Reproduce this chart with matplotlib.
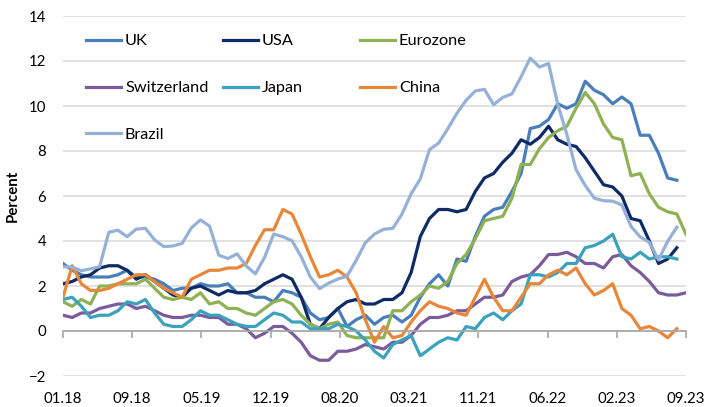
import numpy as np
import matplotlib
matplotlib.use("Agg")
import matplotlib.pyplot as plt
from matplotlib.legend import Legend
from matplotlib.transforms import blended_transform_factory

plt.rcParams['font.family'] = ['Lato', 'DejaVu Sans']

# Annual consumer price inflation, monthly from 01.18
uk = [3.0, 2.7, 2.5, 2.4, 2.4, 2.4, 2.5, 2.7, 2.4, 2.4, 2.3, 2.1,
      1.8, 1.9, 1.9, 2.1, 2.0, 2.0, 2.1, 1.7, 1.7, 1.5, 1.5, 1.3,
      1.8, 1.7, 1.5, 0.8, 0.5, 0.6, 1.0, 0.2, 0.5, 0.7, 0.3, 0.6,
      0.7, 0.4, 0.7, 1.5, 2.1, 2.5, 2.0, 3.2, 3.1, 4.2, 5.1, 5.4,
      5.5, 6.2, 7.0, 9.0, 9.1, 9.4, 10.1, 9.9, 10.1, 11.1, 10.7, 10.5,
      10.1, 10.4, 10.1, 8.7, 8.7, 7.9, 6.8, 6.7]
usa = [2.1, 2.2, 2.4, 2.5, 2.8, 2.9, 2.9, 2.7, 2.3, 2.5, 2.2, 1.9,
       1.6, 1.5, 1.9, 2.0, 1.8, 1.6, 1.8, 1.7, 1.7, 1.8, 2.1, 2.3,
       2.5, 2.3, 1.5, 0.3, 0.1, 0.6, 1.0, 1.3, 1.4, 1.2, 1.2, 1.4,
       1.4, 1.7, 2.6, 4.2, 5.0, 5.4, 5.4, 5.3, 5.4, 6.2, 6.8, 7.0,
       7.5, 7.9, 8.5, 8.3, 8.6, 9.1, 8.5, 8.3, 8.2, 7.7, 7.1, 6.5,
       6.4, 6.0, 5.0, 4.9, 4.0, 3.0, 3.2, 3.7]
eurozone = [1.3, 1.1, 1.4, 1.2, 2.0, 2.0, 2.1, 2.1, 2.1, 2.3, 1.9, 1.5,
            1.4, 1.5, 1.4, 1.7, 1.2, 1.3, 1.0, 1.0, 0.8, 0.7, 1.0, 1.3,
            1.4, 1.2, 0.7, 0.3, 0.1, 0.3, 0.4, -0.2, -0.3, -0.3, -0.3, -0.3,
            0.9, 0.9, 1.3, 1.6, 2.0, 1.9, 2.2, 3.0, 3.4, 4.1, 4.9, 5.0,
            5.1, 5.9, 7.4, 7.4, 8.1, 8.6, 8.9, 9.1, 9.9, 10.6, 10.1, 9.2,
            8.6, 8.5, 6.9, 7.0, 6.1, 5.5, 5.3, 5.2, 4.3]
switzerland = [0.7, 0.6, 0.8, 0.8, 1.0, 1.1, 1.2, 1.2, 1.0, 1.1, 0.9, 0.7,
               0.6, 0.6, 0.7, 0.7, 0.6, 0.6, 0.3, 0.3, 0.1, -0.3, -0.1, 0.2,
               0.2, -0.1, -0.5, -1.1, -1.3, -1.3, -0.9, -0.9, -0.8, -0.6, -0.7, -0.8,
               -0.5, -0.5, -0.2, 0.3, 0.6, 0.6, 0.7, 0.9, 0.9, 1.2, 1.5, 1.5,
               1.6, 2.2, 2.4, 2.5, 2.9, 3.4, 3.4, 3.5, 3.3, 3.0, 3.0, 2.8,
               3.3, 3.4, 2.9, 2.6, 2.2, 1.7, 1.6, 1.6, 1.7]
japan = [1.4, 1.5, 1.1, 0.6, 0.7, 0.7, 0.9, 1.3, 1.2, 1.4, 0.8, 0.3,
         0.2, 0.2, 0.5, 0.9, 0.7, 0.7, 0.5, 0.3, 0.2, 0.2, 0.5, 0.8,
         0.7, 0.4, 0.4, 0.1, 0.1, 0.1, 0.3, 0.2, 0.0, -0.4, -0.9, -1.2,
         -0.6, -0.4, -0.2, -1.1, -0.8, -0.5, -0.3, -0.4, 0.2, 0.1, 0.6, 0.8,
         0.5, 0.9, 1.2, 2.5, 2.5, 2.4, 2.6, 3.0, 3.0, 3.7, 3.8, 4.0,
         4.3, 3.3, 3.2, 3.5, 3.2, 3.3, 3.3, 3.2]
china = [1.5, 2.9, 2.1, 1.8, 1.8, 1.9, 2.1, 2.3, 2.5, 2.5, 2.2, 1.9,
         1.7, 1.5, 2.3, 2.5, 2.7, 2.7, 2.8, 2.8, 3.0, 3.8, 4.5, 4.5,
         5.4, 5.2, 4.3, 3.3, 2.4, 2.5, 2.7, 2.4, 1.7, 0.5, -0.5, 0.2,
         -0.3, -0.2, 0.4, 0.9, 1.3, 1.1, 1.0, 0.8, 0.7, 1.5, 2.3, 1.5,
         0.9, 0.9, 1.5, 2.1, 2.1, 2.5, 2.7, 2.5, 2.8, 2.1, 1.6, 1.8,
         2.1, 1.0, 0.7, 0.1, 0.2, 0.0, -0.3, 0.1]
brazil = [2.86, 2.84, 2.68, 2.76, 2.86, 4.39, 4.48, 4.19, 4.53, 4.56, 4.05, 3.75,
          3.78, 3.89, 4.58, 4.94, 4.66, 3.37, 3.22, 3.43, 2.89, 2.54, 3.27, 4.31,
          4.19, 4.01, 3.30, 2.40, 1.88, 2.13, 2.31, 2.44, 3.14, 3.92, 4.31, 4.52,
          4.56, 5.20, 6.10, 6.76, 8.06, 8.35, 8.99, 9.68, 10.25, 10.67, 10.74, 10.06,
          10.38, 10.54, 11.30, 12.13, 11.73, 11.89, 10.07, 8.73, 7.17, 6.47, 5.90, 5.79,
          5.77, 5.60, 4.65, 4.18, 3.94, 3.16, 3.99, 4.61]

tick_labels = ['01.18', '09.18', '05.19', '12.19', '08.20',
               '03.21', '11.21', '06.22', '02.23', '09.23']
n_months = 68  # months from 01.18 to 09.23

series = [
    ('UK', uk, '#4A7EBB'),
    ('USA', usa, '#0E2B66'),
    ('Eurozone', eurozone, '#8DB153'),
    ('Switzerland', switzerland, '#7A5C9C'),
    ('Japan', japan, '#3AA2BC'),
    ('China', china, '#E8873A'),
    ('Brazil', brazil, '#95B1D8'),
]

W, H = 718, 407
fig = plt.figure(figsize=(W / 100, H / 100), dpi=100)
ax = fig.add_axes([63 / W, 1 - 376 / H, 623 / W, 360 / H])

lines = {}
for name, vals, col in series:
    (ln,) = ax.plot(np.arange(len(vals)), vals, color=col, lw=2.3,
                    solid_joinstyle='round', label=name)
    lines[name] = ln

ax.set_xlim(0, n_months)
ax.set_ylim(-2, 14)
ax.set_yticks(np.arange(-2, 15, 2))
ax.yaxis.grid(True, color='#D9D9D9', lw=1.1)
ax.set_axisbelow(True)

for s in ['left', 'right', 'top']:
    ax.spines[s].set_visible(False)
ax.spines['bottom'].set_position(('data', 0))
ax.spines['bottom'].set_color('#A6A6A6')
ax.spines['bottom'].set_linewidth(1.2)

tick_pos = np.linspace(0, n_months, len(tick_labels))
ax.set_xticks(tick_pos)
ax.tick_params(axis='x', direction='out', length=5, width=1.2,
               color='#A6A6A6', labelbottom=False)
ax.tick_params(axis='y', length=0, pad=12, labelsize=10.8, labelcolor='black')

trans = blended_transform_factory(ax.transData, ax.transAxes)
for p, lab in zip(tick_pos, tick_labels):
    ax.text(p, -0.075, lab, transform=trans, ha='center', va='baseline',
            fontsize=10.8)

ax.set_ylabel('Percent', fontweight='bold', fontsize=10.8)
ax.yaxis.set_label_coords(-0.069, 0.5)

# Legend laid out as three columns
columns = [(['UK', 'Switzerland', 'Brazil'], 86),
           (['USA', 'Japan'], 223),
           (['Eurozone', 'China'], 360)]
for names, xpx in columns:
    leg = Legend(ax, [lines[n] for n in names], names, loc='upper left',
                 bbox_to_anchor=(xpx / W, 1 - 34 / H),
                 bbox_transform=fig.transFigure, frameon=False,
                 fontsize=11.7, handlelength=2.15, handletextpad=0.25,
                 borderpad=0, borderaxespad=0, labelspacing=2.0)
    ax.add_artist(leg)

fig.savefig('out.png', dpi=100)
